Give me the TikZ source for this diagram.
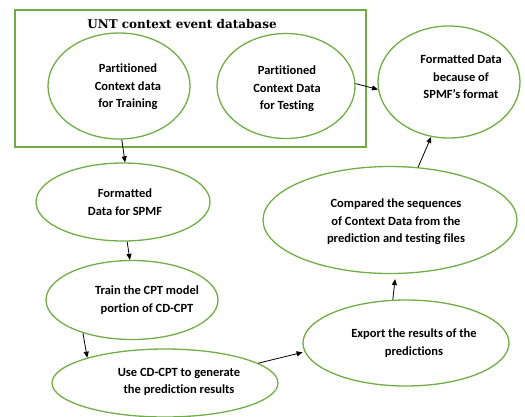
\documentclass[tikz,border=0pt]{standalone}
\usepackage{fontspec}
\setmainfont{Carlito}[Ligatures={NoCommon}]
\newfontfamily\titlefont{DejaVu Serif}
\usetikzlibrary{shapes.geometric,arrows.meta}
\definecolor{ogreen}{HTML}{70AD47}
\begin{document}
\begin{tikzpicture}[x=1pt,y=-1pt,
  ell/.style={draw=ogreen,line width=1.3pt,ellipse,inner sep=0pt},
  txt/.style={align=center,inner sep=0pt,font=\bfseries\fontsize{12.5}{17.5}\selectfont},
  arr/.style={-{Triangle[length=6pt,width=5pt]},line width=0.8pt,black}]
\useasboundingbox (0,0) rectangle (525,416);
% database box
\node[draw=ogreen,line width=1.5pt,minimum width=351pt,minimum height=137pt,inner sep=0pt] (db) at (190.5,78.5) {};
\node[inner sep=0pt,font=\titlefont\bfseries\fontsize{12}{14}\selectfont] (title) at (182,24.5) {UNT context event database};
% ellipses
\node[ell,minimum width=142pt,minimum height=106pt] (e1) at (119,86) {};
\node[ell,minimum width=138pt,minimum height=105pt] (e2) at (286,86) {};
\node[ell,minimum width=142pt,minimum height=112pt] (e3) at (449,82) {};
\node[ell,minimum width=174pt,minimum height=78pt] (e4) at (123,202) {};
\node[ell,minimum width=172pt,minimum height=79pt] (e5) at (132,300) {};
\node[ell,minimum width=226pt,minimum height=68pt] (e6) at (165,383) {};
\node[ell,minimum width=206pt,minimum height=86pt] (e7) at (406,343) {};
\node[ell,minimum width=254pt,minimum height=107pt] (e8) at (390,220) {};
% texts
\node[txt] (t1) at (128,87) {Partitioned\\Context data\\for Training};
\node[txt] (t2) at (287,89) {Partitioned\\Context Data\\for Testing};
\node[txt] (t3) at (461,77) {Formatted Data\\because of\\SPMF’s format};
\node[txt] (t4) at (125,202) {Formatted\\Data for SPMF};
\node[txt] (t5) at (147,300) {Train the CPT model\\portion of CD-CPT};
\node[txt] (t6) at (179,382) {Use CD-CPT to generate\\the prediction results};
\node[txt] (t7) at (414,343) {Export the results of the\\predictions};
\node[txt] (t8) at (396,222) {Compared the sequences\\of Context Data from the\\prediction and testing files};
% arrows
\draw[arr] (e1.-87) -- (e4.87);
\draw[arr] (e4.-84) -- (e5.93);
\draw[arr] (e5.-146) -- (e6.162);
\draw[arr,shorten >=2pt] (e6.12) -- (e7.185);
\draw[arr,shorten >=5pt] (e7.107) -- (e8.-84);
\draw[arr] (e8.62) -- (e3.-108);
\draw[arr] (e2.2) -- (e3.186);
\end{tikzpicture}
\end{document}
